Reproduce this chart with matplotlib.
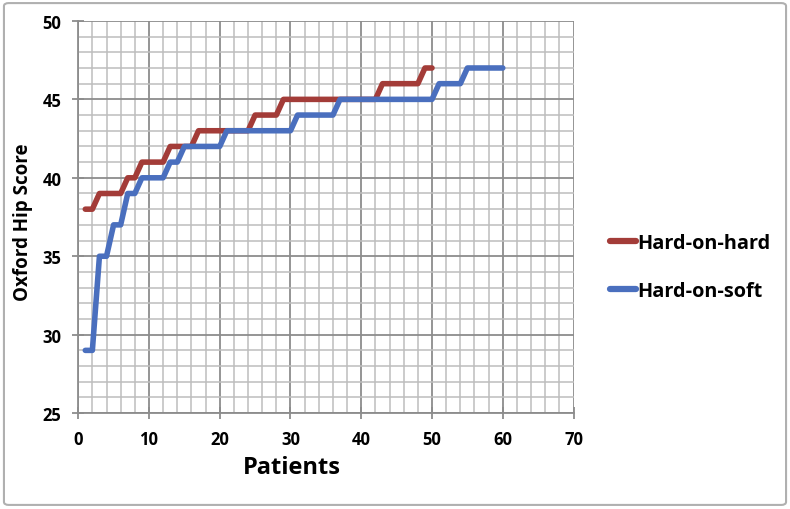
import numpy as np
import matplotlib
matplotlib.use('Agg')
import matplotlib.pyplot as plt
from matplotlib.patches import FancyBboxPatch
from matplotlib.ticker import MultipleLocator

plt.rcParams['font.family'] = ['Open Sans', 'DejaVu Sans']
plt.rcParams['font.weight'] = 'bold'

# patients and Oxford Hip Score, one value per patient
hard_hard_x = list(range(1, 51))
hard_hard = [38, 38, 39, 39, 39, 39, 40, 40, 41, 41,
             41, 41, 42, 42, 42, 42, 43, 43, 43, 43,
             43, 43, 43, 43, 44, 44, 44, 44, 45, 45,
             45, 45, 45, 45, 45, 45, 45, 45, 45, 45,
             45, 45, 46, 46, 46, 46, 46, 46, 47, 47]
hard_soft_x = list(range(1, 61))
hard_soft = [29, 29, 35, 35, 37, 37, 39, 39, 40, 40,
             40, 40, 41, 41, 42, 42, 42, 42, 42, 42,
             43, 43, 43, 43, 43, 43, 43, 43, 43, 43,
             44, 44, 44, 44, 44, 44, 45, 45, 45, 45,
             45, 45, 45, 45, 45, 45, 45, 45, 45, 45,
             46, 46, 46, 46, 47, 47, 47, 47, 47, 47]
series_names = ['Hard-on-hard', 'Hard-on-soft']
colors = ['#A33C38', '#4A6FBE']

fig = plt.figure(figsize=(7.9, 5.1), dpi=100)
border = FancyBboxPatch((0.005, 0.008), 0.99, 0.984, boxstyle='round,pad=0,rounding_size=0.006',
                        transform=fig.transFigure, facecolor='none', edgecolor='#B0B0B0', lw=1.5)
fig.patches.append(border)

ax = fig.add_axes([0.099, 0.188, 0.627, 0.769])
ax.plot(hard_hard_x, hard_hard, color=colors[0], lw=4, solid_joinstyle='round',
        solid_capstyle='round', label=series_names[0], zorder=3)
ax.plot(hard_soft_x, hard_soft, color=colors[1], lw=4, solid_joinstyle='round',
        solid_capstyle='round', label=series_names[1], zorder=3)

ax.set_xlim(0, 70)
ax.set_ylim(25, 50)
ax.xaxis.set_major_locator(MultipleLocator(10))
ax.xaxis.set_minor_locator(MultipleLocator(2))
ax.yaxis.set_major_locator(MultipleLocator(5))
ax.yaxis.set_minor_locator(MultipleLocator(1))
ax.grid(which='major', color='#8C8C8C', lw=1.3)
ax.grid(which='minor', color='#BDBDBD', lw=1.1)
ax.set_axisbelow(True)

for s in ['top', 'right']:
    ax.spines[s].set_visible(False)
for s in ['left', 'bottom']:
    ax.spines[s].set_color('#8C8C8C')
    ax.spines[s].set_linewidth(1.3)
ax.tick_params(which='major', direction='inout', length=8, width=1.3, color='#8C8C8C')
ax.tick_params(which='minor', length=0)
ax.tick_params(axis='both', labelsize=12, pad=8)

ax.set_xlabel('Patients', fontsize=17, fontweight='bold')
ax.xaxis.label.set_va('center')
ax.xaxis.set_label_coords(0.432, -0.137)
ax.set_ylabel('Oxford Hip Score', fontsize=13.5, fontweight='bold')
ax.yaxis.label.set_va('center')
ax.yaxis.set_label_coords(-0.112, 0.49)

leg = fig.legend(loc='center left', bbox_to_anchor=(0.772, 0.474), frameon=False,
                 prop={'weight': 'bold', 'size': 14.3}, handlelength=1.3, handletextpad=0.1,
                 labelspacing=1.4, borderpad=0, borderaxespad=0)
for h in leg.get_lines():
    h.set_linewidth(4.5)

fig.savefig('out.png', dpi=100)
